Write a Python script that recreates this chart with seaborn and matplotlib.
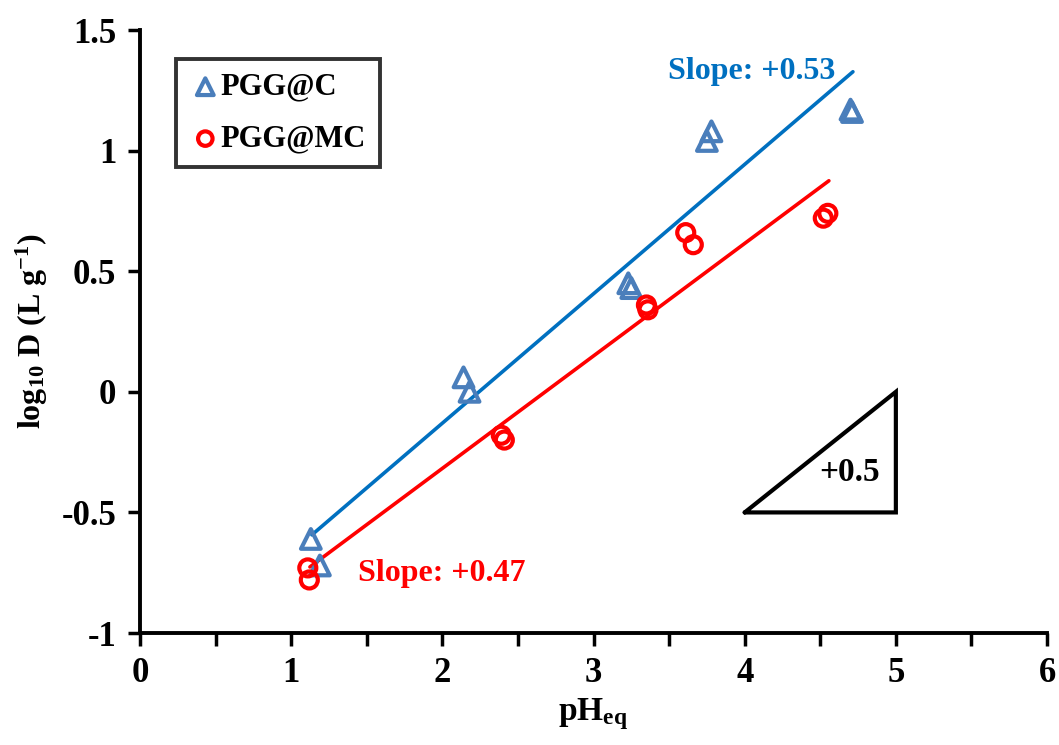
import numpy as np
import pandas as pd
import matplotlib
matplotlib.use("Agg")
import matplotlib.pyplot as plt
import seaborn as sns
from matplotlib.ticker import MultipleLocator

# ---- data ----
c_ph = [1.13, 1.19, 2.14, 2.18, 3.23, 3.25, 3.75, 3.78, 4.70, 4.71]
c_logd = [-0.61, -0.72, 0.06, 0.00, 0.45, 0.43, 1.04, 1.08, 1.17, 1.16]
mc_ph = [1.11, 1.12, 2.39, 2.41, 3.35, 3.36, 3.61, 3.66, 4.52, 4.55]
mc_logd = [-0.73, -0.78, -0.18, -0.20, 0.36, 0.34, 0.66, 0.61, 0.72, 0.74]
fit_c_x = [1.137, 4.716]
fit_c_y = [-0.593, 1.327]
fit_mc_x = [1.124, 4.557]
fit_mc_y = [-0.726, 0.875]
series_names = ["PGG@C", "PGG@MC"]
slope_labels = ["Slope: +0.53", "Slope: +0.47"]
x_ticks = [0, 1, 2, 3, 4, 5, 6]
y_ticks = [-1, -0.5, 0, 0.5, 1, 1.5]
y_tick_labels = ["-1", "-0.5", "0", "0.5", "1", "1.5"]

sns.set_theme(style="white")
plt.rcParams["font.family"] = ["Liberation Serif", "DejaVu Serif"]
plt.rcParams["font.weight"] = "bold"
plt.rcParams["text.color"] = "black"
plt.rcParams["axes.labelcolor"] = "black"
plt.rcParams["xtick.color"] = "black"
plt.rcParams["ytick.color"] = "black"
plt.rcParams["axes.unicode_minus"] = False
plt.rcParams["mathtext.fontset"] = "custom"
plt.rcParams["mathtext.rm"] = "Liberation Serif:bold"
plt.rcParams["mathtext.it"] = "Liberation Serif:bold"
plt.rcParams["mathtext.bf"] = "Liberation Serif:bold"

fig = plt.figure(figsize=(10.59, 7.45), dpi=100)
ax = fig.add_axes([0.1322, 0.1503, 0.8565, 0.8094])

tri_color = "#4A7EBB"
line_blue = "#0070C0"
red = "#FF0000"

sns.lineplot(x=fit_c_x, y=fit_c_y, ax=ax, color=line_blue, linewidth=2.6, legend=False)
sns.lineplot(x=fit_mc_x, y=fit_mc_y, ax=ax, color=red, linewidth=2.6, legend=False)

ax.scatter(c_ph, c_logd, marker="^", s=200, facecolors="none",
           edgecolors=tri_color, linewidths=3.0, label=series_names[0], zorder=3)
ax.scatter(mc_ph, mc_logd, marker="o", s=150, facecolors="none",
           edgecolors=red, linewidths=3.0, label=series_names[1], zorder=3)

# slope triangle
ax.plot([4, 5, 5, 4], [-0.5, -0.5, 0, -0.5], color="black", linewidth=3.0,
        solid_joinstyle="miter")
ax.text(4.49, -0.335, "+0.5", fontsize=24, fontweight="bold", ha="left", va="center")

ax.text(3.49, 1.33, slope_labels[0], color=line_blue, fontsize=23,
        fontweight="bold", ha="left", va="center")
ax.text(1.44, -0.755, slope_labels[1], color=red, fontsize=23,
        fontweight="bold", ha="left", va="center")

ax.set_xlim(0, 6)
ax.set_ylim(-1, 1.5)
ax.set_xticks(x_ticks)
ax.xaxis.set_minor_locator(MultipleLocator(0.5))
ax.set_yticks(y_ticks)
ax.set_yticklabels(y_tick_labels)
ax.tick_params(axis="both", which="major", direction="out", length=9, width=2.5,
               labelsize=25, colors="black", bottom=True, left=True, pad=8)
ax.tick_params(axis="x", which="minor", direction="out", length=9, width=2.5,
               bottom=True)
for lab in ax.get_xticklabels() + ax.get_yticklabels():
    lab.set_fontweight("bold")

for s in ["top", "right"]:
    ax.spines[s].set_visible(False)
for s in ["left", "bottom"]:
    ax.spines[s].set_color("black")
    ax.spines[s].set_linewidth(2.8)

ax.set_xlabel(r"pH$_{\mathrm{eq}}$", fontsize=24, fontweight="bold", labelpad=5)
ax.set_ylabel(r"log$_{\mathrm{10}}$ D (L g$^{\mathrm{-1}}$)", fontsize=23,
              fontweight="bold", labelpad=8)

leg = ax.legend(loc="upper left", bbox_to_anchor=(0.04, 0.952), frameon=True,
                fancybox=False, edgecolor="black", fontsize=22,
                handletextpad=0.0, borderpad=0.45, labelspacing=0.75,
                handlelength=1.0, borderaxespad=0, markerscale=0.85)
leg.get_frame().set_linewidth(2.8)
for t in leg.get_texts():
    t.set_fontweight("bold")

fig.savefig("out.png", dpi=100)
